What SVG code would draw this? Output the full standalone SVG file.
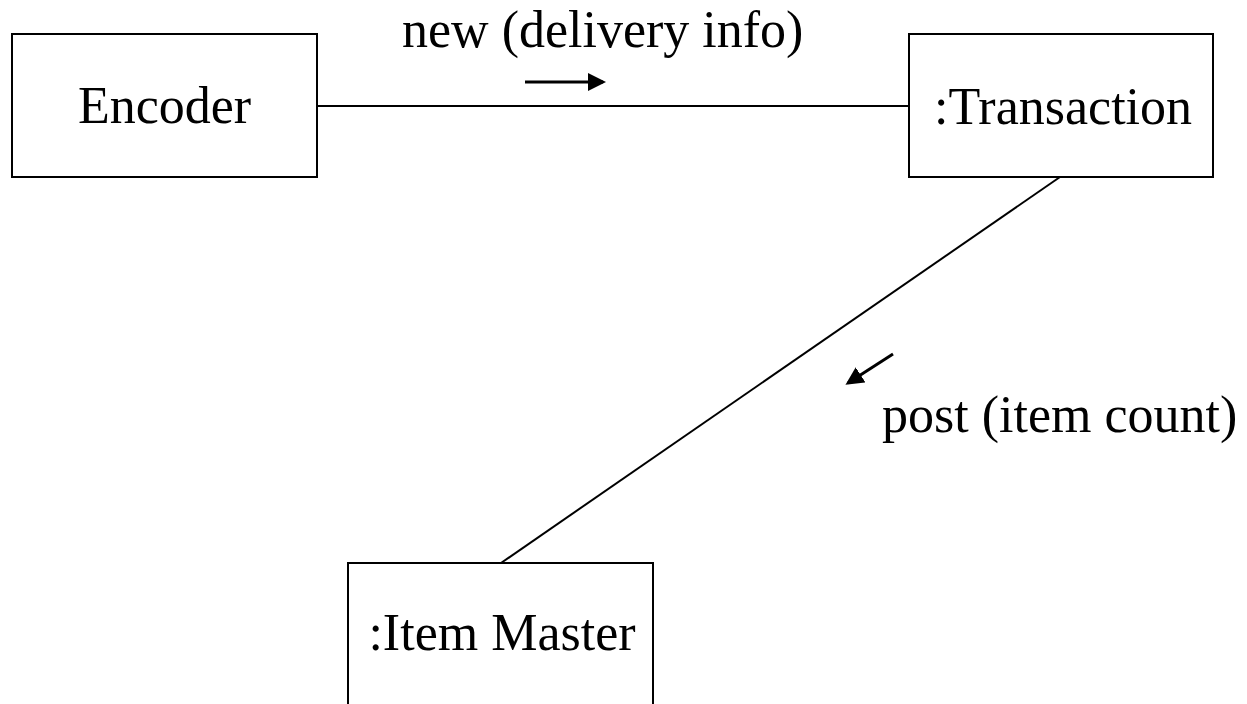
<svg xmlns="http://www.w3.org/2000/svg" width="1247" height="704" viewBox="0 0 1247 704">
<style>
.box{fill:#fff;stroke:#000;stroke-width:2}
.lbl{font-family:"Liberation Serif","Times New Roman",serif;font-size:52px;fill:#000}
.ln{stroke:#000;stroke-width:2;fill:none}
.ar{stroke:#000;stroke-width:3;fill:none}
</style>
<defs>
<marker id="ah" markerWidth="6" markerHeight="6" refX="5" refY="3" orient="auto" markerUnits="strokeWidth">
<path d="M0,0 L6,3 L0,6 Z" fill="#000"/>
</marker>
</defs>
<g id="connectors">
<line class="ln" x1="317" y1="106" x2="909" y2="106"/>
<line class="ln" x1="1060" y1="177" x2="501" y2="563"/>
<line class="ar" x1="525" y1="82" x2="603" y2="82" marker-end="url(#ah)"/>
<line class="ar" x1="893" y1="354" x2="848" y2="383" marker-end="url(#ah)"/>
<text class="lbl" x="402" y="47">new (delivery info)</text>
<text class="lbl" x="882" y="432">post (item count)</text>
</g>
<g id="encoder">
<rect class="box" x="12" y="34" width="305" height="143"/>
<text class="lbl" x="164.5" y="123" text-anchor="middle">Encoder</text>
</g>
<g id="transaction">
<rect class="box" x="909" y="34" width="304" height="143"/>
<text class="lbl" x="1063" y="124" text-anchor="middle">:Transaction</text>
</g>
<g id="itemmaster">
<rect class="box" x="348" y="563" width="305" height="150"/>
<text class="lbl" x="502" y="650" text-anchor="middle">:Item Master</text>
</g>
</svg>
